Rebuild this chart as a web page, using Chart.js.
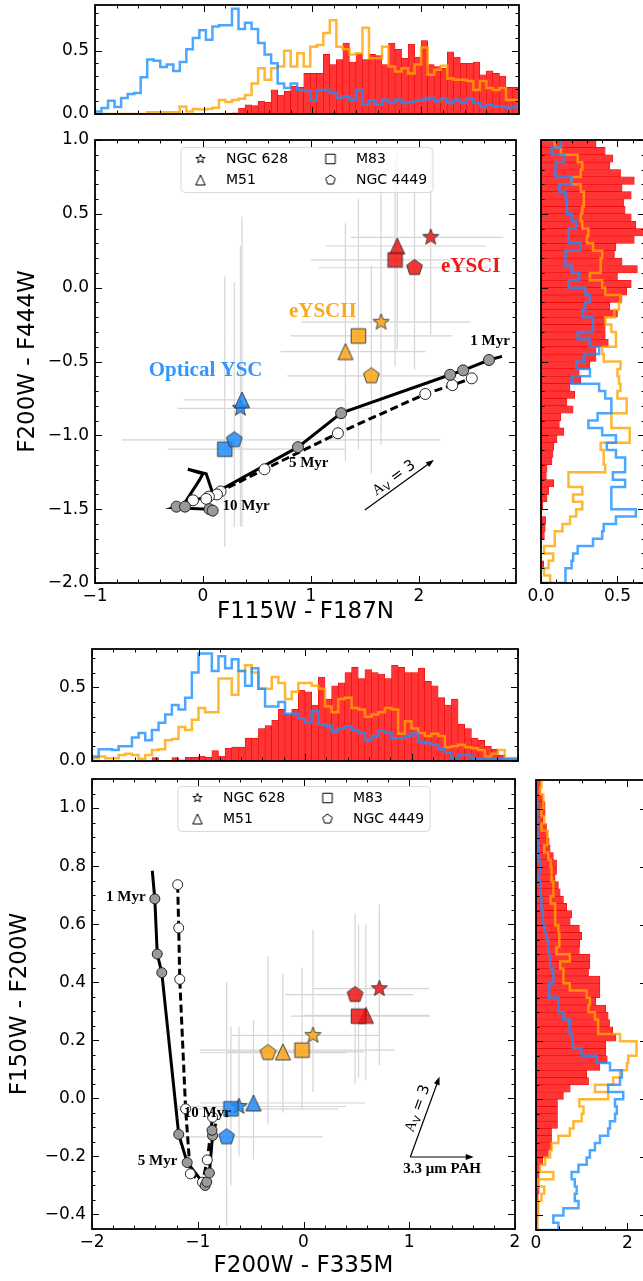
<!DOCTYPE html>
<html>
<head>
<meta charset="utf-8">
<title>Colour-colour diagrams</title>
<script src="https://cdn.jsdelivr.net/npm/chart.js@4.4.1/dist/chart.umd.min.js"></script>
<style>
  body { margin: 0; background: #fff; overflow: hidden; }
  #fig { position: relative; width: 643px; height: 1281px; overflow: hidden; background: #fff; }
  canvas { position: absolute; }
</style>
</head>
<body>
<div id="fig">
  <canvas id="top1" width="525" height="120" style="left:0;top:0"></canvas>
  <canvas id="main1" width="525" height="500" style="left:0;top:130px"></canvas>
  <canvas id="side1" width="130" height="500" style="left:520px;top:130px"></canvas>
  <canvas id="top2" width="524" height="127" style="left:0;top:640px"></canvas>
  <canvas id="main2" width="524" height="511" style="left:0;top:770px"></canvas>
  <canvas id="side2" width="140" height="511" style="left:516px;top:770px"></canvas>
</div>
<script>
const FONT = '"DejaVu Sans", sans-serif';
const SERIF = '"Liberation Serif", "DejaVu Serif", serif';

const GALAXIES = ['NGC 628', 'M51', 'M83', 'NGC 4449'];
const SHAPES = ['star', 'triangle', 'square', 'pentagon'];
const GROUPS = ['eYSCI', 'eYSCII', 'Optical YSC'];

// ---- histograms, panel 1 (top: F115W - F187N, side: F200W - F444W)
const TOP1_START = -1, TOP1_WIDTH = 0.06;
const TOP1_RED = [0,0,0,0,0,0,0,0,0,0, 0,0,0,0,0,0,0,0,0,0.008,
  0.008,0.01,0.047,0.073,0.066,0.10,0.092,0.19,0.15,0.18,
  0.22,0.21,0.32,0.32,0.32,0.47,0.39,0.43,0.56,0.41,
  0.47,0.43,0.47,0.46,0.39,0.56,0.51,0.44,0.55,0.45,
  0.58,0.39,0.375,0.36,0.49,0.45,0.40,0.40,0.41,0.31,
  0.34,0.32,0.30,0.21,0.21];
const TOP1_ORANGE = [0,0,0,0,0,0,0,0,0.013,0.013, 0.013,0.013,0.013,0.06,0.02,0.04,0.035,0.04,0.05,0.11,
  0.095,0.11,0.12,0.15,0.24,0.36,0.27,0.36,0.375,0.50,
  0.375,0.48,0.375,0.53,0.545,0.64,0.74,0.53,0.51,0.47,
  0.48,0.68,0.44,0.44,0.53,0.375,0.335,0.36,0.32,0.39,
  0.525,0.31,0.35,0.38,0.28,0.27,0.27,0.26,0.19,0.26,
  0.205,0.19,0.205,0.11,0.11];
const TOP1_BLUE = [0.02,0.047,0.105,0.055,0.126,0.157,0.165,0.29,0.43,0.42,
  0.37,0.39,0.34,0.41,0.51,0.60,0.66,0.585,0.69,0.70,
  0.70,0.83,0.67,0.72,0.67,0.56,0.47,0.40,0.24,0.205,
  0.24,0.19,0.186,0.105,0.19,0.19,0.165,0.126,0.14,0.113,
  0.19,0.073,0.108,0.073,0.113,0.087,0.113,0.087,0.095,0.105,
  0.113,0.126,0.10,0.123,0.087,0.113,0.087,0.123,0.087,0.055,
  0.073,0.06,0.06,0.047,0.055];

// side bins run from the top of the axis downwards
const SIDE1_TOP = 1.0, SIDE1_WIDTH = 0.05;
const SIDE1_RED = [0.36,0.42,0.47,0.45,0.52,0.61,0.53,0.59,0.54,0.55,
  0.59,0.62,0.67,0.61,0.49,0.48,0.53,0.63,0.50,0.59,
  0.56,0.53,0.45,0.50,0.42,0.42,0.42,0.44,0.36,0.36,
  0.32,0.25,0.26,0.19,0.22,0.17,0.21,0.13,0.12,0.15,
  0.105,0.083,0.079,0.072,0.04,0.035,0.083,0.05,0.04,0.013,
  0,0.03,0.028,0.022,0,0,0,0.018,0,0];
const SIDE1_ORANGE = [0.09,0.13,0.24,0.27,0.26,0.20,0.26,0.28,0.28,0.27,
  0.26,0.27,0.31,0.30,0.34,0.40,0.39,0.39,0.32,0.40,
  0.42,0.52,0.51,0.48,0.42,0.46,0.49,0.49,0.40,0.41,
  0.52,0.50,0.51,0.52,0.50,0.56,0.56,0.46,0.46,0.58,
  0.58,0.39,0.41,0.41,0.42,0.18,0.18,0.27,0.21,0.27,
  0.23,0.19,0.14,0.09,0.09,0.02,0.08,0.05,0.02,0.06];
const SIDE1_BLUE = [0.13,0.07,0.15,0.095,0.095,0.20,0.12,0.16,0.17,0.17,
  0.20,0.23,0.18,0.18,0.26,0.16,0.16,0.20,0.25,0.18,
  0.29,0.32,0.29,0.27,0.34,0.34,0.24,0.32,0.38,0.28,
  0.23,0.32,0.20,0.38,0.42,0.46,0.46,0.37,0.31,0.40,
  0.49,0.43,0.49,0.55,0.55,0.47,0.55,0.46,0.46,0.46,
  0.62,0.49,0.41,0.40,0.34,0.24,0.21,0.20,0.16,0.16];

// ---- histograms, panel 2 (top: F200W - F335M, side: F150W - F200W)
const TOP2_START = -2, TOP2_WIDTH = 0.0625;
const TOP2_RED = [0,0,0,0,0,0,0,0,0,0.023,
  0.005,0.005,0.023,0.008,0.025,0.025,0.034,0.025,0.07,0.034,
  0.087,0.094,0.094,0.155,0.155,0.22,0.24,0.276,0.35,0.32,
  0.35,0.48,0.47,0.38,0.57,0.42,0.51,0.53,0.60,0.635,
  0.56,0.62,0.60,0.59,0.56,0.65,0.635,0.60,0.60,0.63,
  0.54,0.51,0.43,0.38,0.42,0.25,0.22,0.155,0.14,0.10,
  0.08,0.04,0.018,0.01];
const TOP2_ORANGE = [0.018,0.03,0.018,0.018,0.04,0.05,0.04,0.014,0.04,0.075,
  0.08,0.14,0.15,0.23,0.21,0.28,0.36,0.33,0.33,0.56,
  0.56,0.45,0.61,0.65,0.60,0.49,0.49,0.57,0.53,0.42,
  0.47,0.53,0.53,0.51,0.49,0.37,0.33,0.42,0.43,0.36,
  0.35,0.30,0.315,0.33,0.36,0.35,0.185,0.27,0.22,0.19,
  0.17,0.185,0.17,0.094,0.10,0.11,0.094,0.087,0.075,0.03,
  0.05,0.075,0.018,0.02];
const TOP2_BLUE = [0.03,0.08,0.08,0.075,0.10,0.10,0.16,0.19,0.14,0.21,
  0.26,0.315,0.38,0.35,0.43,0.60,0.73,0.73,0.61,0.71,
  0.63,0.69,0.61,0.51,0.63,0.49,0.37,0.37,0.40,0.32,
  0.32,0.29,0.26,0.34,0.25,0.24,0.20,0.22,0.235,0.21,
  0.19,0.14,0.17,0.205,0.19,0.155,0.155,0.17,0.19,0.13,
  0.12,0.11,0.08,0.057,0.018,0.04,0.04,0.018,0.014,0.014,
  0.014,0.014,0.014,0.014];

const SIDE2_TOP = 1.10, SIDE2_WIDTH = 0.025;
const SIDE2_RED = [0.10,0.10,0.15,0.20,0.20,0.15,0.23,0.26,0.29,0.31,
  0.38,0.45,0.45,0.42,0.49,0.53,0.60,0.67,0.78,0.75,
  0.95,1.00,0.96,0.95,1.18,1.18,1.15,1.40,1.40,1.40,
  1.31,1.53,1.58,1.61,1.68,1.75,1.53,1.53,1.56,1.40,
  1.11,1.15,0.75,0.60,0.47,0.47,0.47,0.47,0.34,0.34,
  0.34,0.27,0.15,0.09,0.07,0.07,0.07,0.05,0.05,0.05,
  0.04,0.03];
const SIDE2_ORANGE = [0.12,0.09,0.16,0.16,0.12,0.18,0.12,0.25,0.25,0.18,
  0.27,0.32,0.34,0.34,0.38,0.38,0.32,0.42,0.42,0.42,
  0.49,0.51,0.51,0.45,0.74,0.53,0.60,0.60,0.74,1.11,
  1.18,1.15,1.29,1.36,1.36,1.84,2.20,2.20,2.02,1.99,
  1.84,1.69,1.29,1.58,0.95,1.04,1.0,0.82,0.74,0.49,
  0.34,0.31,0.20,0.09,0.38,0.05,0.18,0.12,0.05,0.05,
  0.03,0.03];
const SIDE2_BLUE = [0.015,0.015,0.015,0.03,0.03,0.03,0.03,0.03,0.05,0.05,
  0.05,0.09,0.09,0.06,0.10,0.10,0.12,0.12,0.15,0.15,
  0.18,0.23,0.27,0.27,0.31,0.31,0.38,0.38,0.29,0.29,
  0.49,0.49,0.60,0.73,0.74,0.80,0.80,1.0,1.33,1.62,
  1.88,1.84,1.58,1.91,1.73,1.77,1.73,1.62,1.58,1.40,
  1.29,1.18,1.11,0.93,0.78,0.85,0.89,0.85,0.93,0.60,
  0.38,0.49];

// ---- median colours, rows = GROUPS, columns = GALAXIES
const P1_X = [[2.11, 1.80, 1.78, 1.96], [1.65, 1.32, 1.44, 1.56], [0.347, 0.362, 0.202, 0.29]];
const P1_Y = [[0.341, 0.282, 0.188, 0.135], [-0.234, -0.433, -0.327, -0.598], [-0.817, -0.76, -1.094, -1.031]];
const P1_XLO = [[0.74, 0.66, 0.78, 0.89], [0.74, 0.60, 0.63, 0.78], [0.58, 0.54, 0.53, 1.04]];
const P1_XHI = [[0.67, 0.82, 0.52, 0.68], [0.83, 0.74, 0.87, 0.79], [1.21, 0.95, 1.11, 1.91]];
const P1_YLO = [[0.66, 0.70, 0.72, 0.69], [0.83, 0.74, 0.77, 0.66], [0.80, 0.86, 0.66, 0.59]];
const P1_YHI = [[0.60, 0.65, 0.67, 0.55], [0.92, 0.87, 0.93, 0.75], [1.10, 1.24, 1.17, 1.07]];

const P2_X = [[0.717, 0.59, 0.52, 0.488], [0.09, -0.195, -0.014, -0.336], [-0.61, -0.473, -0.686, -0.727]];
const P2_Y = [[0.378, 0.286, 0.283, 0.357], [0.217, 0.16, 0.166, 0.157], [-0.028, -0.016, -0.036, -0.133]];
const P2_XLO = [[0.63, 0.58, 0.64, 0.66], [0.775, 0.535, 0.966, 0.644], [0.59, 0.507, 0.514, 0.473]];
const P2_XHI = [[0.47, 0.60, 0.68, 0.55], [0.627, 0.765, 0.874, 0.736], [1.01, 1.053, 1.016, 0.907]];
const P2_YLO = [[0.264, 0.224, 0.213, 0.307], [0.195, 0.21, 0.206, 0.247], [0.172, 0.194, 0.264, 0.307]];
const P2_YHI = [[0.29, 0.314, 0.317, 0.28], [0.363, 0.27, 0.284, 0.333], [0.274, 0.286, 0.282, 0.533]];

// ---- model tracks
const P1_SOLID_X = [2.77, 2.65, 2.41, 2.29, 1.28, 0.88, 0.16, 0.09, 0.03, -0.14, 0.0, -0.03, -0.18, -0.27, 0.06, 0.12];
const P1_SOLID_Y = [-0.465, -0.49, -0.56, -0.59, -0.85, -1.08, -1.37, -1.39, -1.26, -1.23, -1.26, -1.30, -1.47, -1.49, -1.50, -1.50];
const P1_GREY_X = [2.65, 2.41, 2.29, 1.28, 0.88, -0.245, -0.166, 0.06, 0.09];
const P1_GREY_Y = [-0.49, -0.56, -0.59, -0.85, -1.08, -1.483, -1.483, -1.50, -1.51];
const P1_DASH_X = [2.53, 2.49, 2.31, 2.06, 1.25, 0.57, 0.16, 0.13, 0.055, -0.09, -0.2];
const P1_DASH_Y = [-0.60, -0.614, -0.66, -0.72, -0.986, -1.23, -1.38, -1.40, -1.415, -1.44, -1.47];
const P1_WHITE_X = [2.49, 2.31, 2.06, 1.25, 0.57, 0.163, 0.13, 0.055, 0.03, -0.092];
const P1_WHITE_Y = [-0.614, -0.66, -0.72, -0.986, -1.23, -1.38, -1.40, -1.415, -1.43, -1.44];

const P2_SOLID_X = [-1.43, -1.406, -1.383, -1.34, -1.18, -1.10, -0.93, -0.915, -0.89, -0.86, -0.83];
const P2_SOLID_Y = [0.784, 0.687, 0.497, 0.433, -0.124, -0.221, -0.30, -0.288, -0.257, -0.128, -0.087];
const P2_GREY_X = [-1.406, -1.383, -1.34, -1.18, -1.10, -0.93, -0.915, -0.89, -0.86, -0.865];
const P2_GREY_Y = [0.687, 0.497, 0.433, -0.124, -0.221, -0.30, -0.288, -0.257, -0.128, -0.11];
const P2_DASH_X = [-1.19, -1.18, -1.17, -1.115, -1.07, -0.955, -0.91, -0.86, -0.855];
const P2_DASH_Y = [0.736, 0.587, 0.41, -0.036, -0.26, -0.289, -0.212, -0.065, -0.05];
const P2_WHITE_X = [-1.19, -1.18, -1.17, -1.115, -1.07, -0.955, -0.91, -0.86];
const P2_WHITE_Y = [0.736, 0.587, 0.41, -0.036, -0.26, -0.289, -0.212, -0.065];

// colours
const RED_FILL = 'rgb(255,52,52)';
const RED_EDGE = 'rgb(238,0,0)';
const ORANGE_LINE = 'rgba(255,165,0,0.8)';
const BLUE_LINE = 'rgba(30,144,255,0.8)';
const GROUP_FILL = ['rgba(240,20,20,0.85)', 'rgba(250,165,20,0.85)', 'rgba(30,140,250,0.85)'];
const GROUP_TEXT = ['rgb(240,25,25)', 'rgb(252,168,30)', 'rgb(50,150,255)'];
const MARKER_SIZE = {star: 17, triangle: 16, square: 14.5, pentagon: 16.5};
const LEGEND_SIZE = {star: 9.5, triangle: 10, square: 9.5, pentagon: 10};

Chart.defaults.font.family = FONT;
Chart.defaults.color = '#000';
Chart.defaults.animation = false;
Chart.defaults.events = [];
Chart.defaults.plugins.legend.display = false;
Chart.defaults.plugins.tooltip.enabled = false;

//Marker glyphs drawn once on small canvases, used as pointStyle
function markerPath(ctx, shape, c, s) {
  ctx.beginPath();
  if (shape === 'square') {
    ctx.rect(c - s / 2, c - s / 2, s, s);
    return;
  }
  if (shape === 'triangle') {
    ctx.moveTo(c, c - s / 2);
    ctx.lineTo(c + s * 0.47, c + s / 2);
    ctx.lineTo(c - s * 0.47, c + s / 2);
    ctx.closePath();
    return;
  }
  const n = shape === 'star' ? 10 : 5;
  for (let i = 0; i < n; i++) {
    const r = (shape === 'star' && i % 2) ? s * 0.21 : s / 2;
    const t = -Math.PI / 2 + i * 2 * Math.PI / n;
    ctx.lineTo(c + r * Math.cos(t), c + r * Math.sin(t));
  }
  ctx.closePath();
}

function marker(shape, size, fill, edge) {
  const cv = document.createElement('canvas');
  cv.width = cv.height = Math.ceil(size + 4);
  const ctx = cv.getContext('2d');
  markerPath(ctx, shape, cv.width / 2, size);
  if (fill) {
    ctx.fillStyle = fill;
    ctx.fill();
  }
  ctx.strokeStyle = edge;
  ctx.lineWidth = 1;
  ctx.stroke();
  return cv;
}

const LEGEND_MARKERS = SHAPES.map(s => marker(s, LEGEND_SIZE[s], null, '#000'));

//Inward ticks on all four sides, like the matplotlib original
function drawTicks(ctx, a, scale, horiz, steps) {
  [[steps[1], 3.5], [steps[0], 7]].forEach(([st, len]) => {
    const k0 = Math.ceil(scale.min / st - 1e-6);
    const k1 = Math.floor(scale.max / st + 1e-6);
    for (let k = k0; k <= k1; k++) {
      const p = Math.round(scale.getPixelForValue(k * st)) + 0.5;
      ctx.beginPath();
      if (horiz) {
        ctx.moveTo(p, a.bottom); ctx.lineTo(p, a.bottom - len);
        ctx.moveTo(p, a.top); ctx.lineTo(p, a.top + len);
      } else {
        ctx.moveTo(a.left, p); ctx.lineTo(a.left + len, p);
        ctx.moveTo(a.right, p); ctx.lineTo(a.right - len, p);
      }
      ctx.stroke();
    }
  });
}

function drawArrow(ctx, x0, y0, x1, y1) {
  const ang = Math.atan2(y1 - y0, x1 - x0);
  const c = Math.cos(ang), s = Math.sin(ang);
  ctx.beginPath();
  ctx.moveTo(x0, y0);
  ctx.lineTo(x1 - 6 * c, y1 - 6 * s);
  ctx.stroke();
  ctx.beginPath();
  ctx.moveTo(x1, y1);
  ctx.lineTo(x1 - 8 * c + 3 * s, y1 - 8 * s - 3 * c);
  ctx.lineTo(x1 - 8 * c - 3 * s, y1 - 8 * s + 3 * c);
  ctx.closePath();
  ctx.fill();
}

function drawAv(ctx, px, py, ang) {
  ctx.save();
  ctx.translate(px, py);
  ctx.rotate(ang);
  ctx.textAlign = 'left';
  ctx.textBaseline = 'middle';
  const fA = '15px ' + SERIF, fV = '10px ' + FONT, fR = '15px ' + FONT;
  ctx.font = fA; const wA = ctx.measureText('A').width;
  ctx.font = fV; const wV = ctx.measureText('V').width;
  ctx.font = fR; const wR = ctx.measureText(' = 3').width;
  let x = -(wA + wV + wR) / 2;
  ctx.font = fA; ctx.fillText('A', x, 0); x += wA;
  ctx.font = fV; ctx.fillText('V', x, 4); x += wV;
  ctx.font = fR; ctx.fillText(' = 3', x, 0);
  ctx.restore();
}

function drawLegend(ctx, a) {
  const bx = a.left + 86, by = a.top + 7.5, bw = 252, bh = 45;
  ctx.beginPath();
  ctx.roundRect(bx, by, bw, bh, 4);
  ctx.fillStyle = 'rgba(255,255,255,0.8)';
  ctx.fill();
  ctx.strokeStyle = '#d9d9d9';
  ctx.lineWidth = 1;
  ctx.stroke();
  ctx.font = '14px ' + FONT;
  ctx.fillStyle = '#000';
  ctx.textAlign = 'left';
  ctx.textBaseline = 'middle';
  GALAXIES.forEach((name, i) => {
    const col = Math.floor(i / 2), row = i % 2;
    const mx = bx + 19.5 + col * 130, my = by + 11.5 + row * 21;
    const img = LEGEND_MARKERS[i];
    ctx.drawImage(img, mx - img.width / 2, my - img.height / 2);
    ctx.fillText(name, mx + 25.5, my);
  });
}

// annotations and tick layout for each canvas
const DECOR = {
  top1: {xt: [1, 0.2], yt: [0.5, 0.1]},
  side1: {xt: [0.5, 0.1], yt: [0.5, 0.1]},
  top2: {xt: [1, 0.2], yt: [0.5, 0.1]},
  side2: {xt: [2, 0.5], yt: [0.2, 0.05]},
  main1: {
    xt: [1, 0.2], yt: [0.5, 0.1], legend: true,
    notes: [
      {text: GROUPS[0], x: 2.48, y: 0.14, color: GROUP_TEXT[0], font: 'bold 21px ' + SERIF},
      {text: GROUPS[1], x: 1.11, y: -0.16, color: GROUP_TEXT[1], font: 'bold 21px ' + SERIF},
      {text: GROUPS[2], x: 0.025, y: -0.56, color: GROUP_TEXT[2], font: 'bold 21px ' + SERIF},
      {text: '1 Myr', x: 2.66, y: -0.36, color: '#000', font: 'bold 15px ' + SERIF},
      {text: '5 Myr', x: 0.98, y: -1.19, color: '#000', font: 'bold 15px ' + SERIF},
      {text: '10 Myr', x: 0.40, y: -1.48, color: '#000', font: 'bold 15px ' + SERIF}
    ],
    arrows: [{x0: 1.50, y0: -1.505, x1: 2.14, y1: -1.167}],
    av: {x: 1.77, y: -1.29}
  },
  main2: {
    xt: [1, 0.2], yt: [0.2, 0.05], legend: true,
    notes: [
      {text: '1 Myr', x: -1.68, y: 0.692, color: '#000', font: 'bold 15px ' + SERIF},
      {text: '5 Myr', x: -1.38, y: -0.216, color: '#000', font: 'bold 15px ' + SERIF},
      {text: '10 Myr', x: -0.91, y: -0.05, color: '#000', font: 'bold 15px ' + SERIF},
      {text: '3.3 \u03bcm PAH', x: 1.31, y: -0.243, color: '#000', font: 'bold 15px ' + SERIF}
    ],
    arrows: [{x0: 1.01, y0: -0.202, x1: 1.286, y1: 0.074}, {x0: 1.01, y0: -0.202, x1: 1.61, y1: -0.202}],
    av: {x: 1.08, y: -0.035}
  }
};

const decor = {
  id: 'decor',
  afterDatasetsDraw(chart) {
    const o = DECOR[chart.canvas.id];
    const {ctx, chartArea: a} = chart;
    const xs = chart.scales.x, ys = chart.scales.y;
    ctx.save();
    ctx.fillStyle = '#000';
    ctx.strokeStyle = '#000';
    ctx.lineWidth = 1.2;
    const arrows = (o.arrows || []).map(ar => [xs.getPixelForValue(ar.x0), ys.getPixelForValue(ar.y0), xs.getPixelForValue(ar.x1), ys.getPixelForValue(ar.y1)]);
    arrows.forEach(p => drawArrow(ctx, p[0], p[1], p[2], p[3]));
    if (o.av) {
      const p = arrows[0];
      drawAv(ctx, xs.getPixelForValue(o.av.x), ys.getPixelForValue(o.av.y), Math.atan2(p[3] - p[1], p[2] - p[0]));
    }
    ctx.textAlign = 'center';
    ctx.textBaseline = 'middle';
    (o.notes || []).forEach(n => {
      ctx.font = n.font;
      ctx.fillStyle = n.color;
      ctx.fillText(n.text, xs.getPixelForValue(n.x), ys.getPixelForValue(n.y));
    });
    if (o.legend) drawLegend(ctx, a);
    ctx.strokeStyle = '#000';
    ctx.lineWidth = 1;
    drawTicks(ctx, a, xs, true, o.xt);
    drawTicks(ctx, a, ys, false, o.yt);
    ctx.lineWidth = 1.8;
    ctx.strokeRect(a.left, a.top, a.right - a.left, a.bottom - a.top);
    ctx.restore();
  }
};

//Axis with fixed box size so the panels line up
function axis(o) {
  return {
    type: 'linear', min: o.min, max: o.max, offset: false,
    grid: {display: false, drawTicks: false},
    border: {display: false},
    ticks: {
      display: !!o.labels, stepSize: o.step, includeBounds: false, autoSkip: false, maxRotation: 0,
      padding: o.pad || 0, color: '#000', font: {family: FONT, size: 17},
      callback: v => v.toFixed(o.digits || 0).replace('-', '\u2212')
    },
    title: o.title
      ? {display: true, text: o.title, color: '#000', font: {family: FONT, size: 23}, padding: o.titlePad}
      : {display: false},
    afterFit: s => {
      if (s.isHorizontal()) s.height = o.size; else s.width = o.size;
      s.paddingLeft = s.paddingRight = s.paddingTop = s.paddingBottom = 0;
    }
  };
}

function stepLine(start, width, dir, vals, vertical) {
  const edge = i => start + dir * width * i;
  const pts = [[edge(0), 0]];
  vals.forEach((v, i) => {
    pts.push([edge(i), v], [edge(i + 1), v]);
  });
  pts.push([edge(vals.length), 0]);
  return pts.map(([p, v]) => vertical ? {x: v, y: p} : {x: p, y: v});
}

function barData(start, width, dir, vals, vertical) {
  return vals.map((v, i) => {
    const c = start + dir * width * (i + 0.5);
    return vertical ? {x: v, y: c} : {x: c, y: v};
  });
}

function histChart(id, h) {
  const dir = h.vertical ? -1 : 1;
  return new Chart(document.getElementById(id), {
    type: 'bar',
    data: {
      datasets: [
        {type: 'line', data: stepLine(h.start, h.width, dir, h.blue, h.vertical), borderColor: BLUE_LINE, borderWidth: 2.5, pointRadius: 0, fill: false, order: 0},
        {type: 'line', data: stepLine(h.start, h.width, dir, h.orange, h.vertical), borderColor: ORANGE_LINE, borderWidth: 2.5, pointRadius: 0, fill: false, order: 1},
        {type: 'bar', data: barData(h.start, h.width, dir, h.red, h.vertical), backgroundColor: RED_FILL, borderColor: RED_EDGE, borderWidth: 0.6, barPercentage: 1, categoryPercentage: 1, order: 2}
      ]
    },
    options: {
      responsive: false, devicePixelRatio: 1,
      indexAxis: h.vertical ? 'y' : 'x',
      layout: {padding: h.padding},
      scales: {x: h.x, y: h.y}
    },
    plugins: [decor]
  });
}

function pts(xs, ys) {
  return xs.map((x, i) => ({x, y: ys[i]}));
}

function errPts(m) {
  const out = [];
  m.x.forEach((row, g) => row.forEach((x, i) => {
    const y = m.y[g][i];
    out.push({x: x - m.xlo[g][i], y}, {x: x + m.xhi[g][i], y}, {x: NaN, y: NaN});
    out.push({x, y: y - m.ylo[g][i]}, {x, y: y + m.yhi[g][i]}, {x: NaN, y: NaN});
  }));
  return out;
}

function mainChart(id, m) {
  const datasets = GROUP_FILL.map((fill, g) => ({
    data: pts(m.x[g], m.y[g]),
    pointStyle: SHAPES.map(s => marker(s, MARKER_SIZE[s], fill, 'rgba(50,50,50,0.9)')),
    pointRadius: 8, order: 0
  }));
  datasets.push({data: pts(m.greyX, m.greyY), pointRadius: m.dot, backgroundColor: '#9a9a9a', borderColor: '#222', borderWidth: 1, order: 1});
  datasets.push({data: pts(m.whiteX, m.whiteY), pointRadius: m.dot, backgroundColor: '#fff', borderColor: '#222', borderWidth: 1, order: 1});
  datasets.push({data: pts(m.solidX, m.solidY), showLine: true, pointRadius: 0, borderColor: '#000', borderWidth: 3, order: 2});
  datasets.push({data: pts(m.dashX, m.dashY), showLine: true, pointRadius: 0, borderColor: '#000', borderWidth: 3, borderDash: [8, 4], order: 2});
  datasets.push({data: errPts(m), showLine: true, spanGaps: false, pointRadius: 0, borderColor: 'rgba(185,185,185,0.6)', borderWidth: 1.2, order: 3});
  return new Chart(document.getElementById(id), {
    type: 'scatter',
    data: {datasets},
    options: {
      responsive: false, devicePixelRatio: 1,
      layout: {padding: m.padding},
      scales: {x: m.xAxis, y: m.yAxis}
    },
    plugins: [decor]
  });
}

// ---- panel 1
histChart('top1', {
  start: TOP1_START, width: TOP1_WIDTH, red: TOP1_RED, orange: TOP1_ORANGE, blue: TOP1_BLUE,
  padding: {top: 5, right: 6, left: 0, bottom: 0},
  x: axis({min: -1, max: 2.9, step: 1, size: 6}),
  y: axis({min: 0, max: 0.86, step: 0.5, labels: true, digits: 1, size: 95, pad: 6})
});

mainChart('main1', {
  x: P1_X, y: P1_Y, xlo: P1_XLO, xhi: P1_XHI, ylo: P1_YLO, yhi: P1_YHI,
  solidX: P1_SOLID_X, solidY: P1_SOLID_Y, greyX: P1_GREY_X, greyY: P1_GREY_Y,
  dashX: P1_DASH_X, dashY: P1_DASH_Y, whiteX: P1_WHITE_X, whiteY: P1_WHITE_Y, dot: 5.5,
  padding: {top: 10, right: 6, left: 0, bottom: 0},
  xAxis: axis({min: -1, max: 2.9, step: 1, labels: true, digits: 0, size: 47, pad: 3, title: 'F115W - F187N', titlePad: {bottom: 4}}),
  yAxis: axis({min: -2, max: 1, step: 0.5, labels: true, digits: 1, size: 95, pad: 6, title: 'F200W - F444W', titlePad: {top: 14}})
});

histChart('side1', {
  vertical: true, start: SIDE1_TOP, width: SIDE1_WIDTH, red: SIDE1_RED, orange: SIDE1_ORANGE, blue: SIDE1_BLUE,
  padding: {top: 10, right: 5, left: 0, bottom: 0},
  x: axis({min: 0, max: 0.68, step: 0.5, labels: true, digits: 1, size: 47, pad: 3}),
  y: axis({min: -2, max: 1, step: 0.5, size: 21})
});

// ---- panel 2
histChart('top2', {
  start: TOP2_START, width: TOP2_WIDTH, red: TOP2_RED, orange: TOP2_ORANGE, blue: TOP2_BLUE,
  padding: {top: 9, right: 6, left: 0, bottom: 0},
  x: axis({min: -2, max: 2, step: 1, size: 6}),
  y: axis({min: 0, max: 0.76, step: 0.5, labels: true, digits: 1, size: 92, pad: 6})
});

mainChart('main2', {
  x: P2_X, y: P2_Y, xlo: P2_XLO, xhi: P2_XHI, ylo: P2_YLO, yhi: P2_YHI,
  solidX: P2_SOLID_X, solidY: P2_SOLID_Y, greyX: P2_GREY_X, greyY: P2_GREY_Y,
  dashX: P2_DASH_X, dashY: P2_DASH_Y, whiteX: P2_WHITE_X, whiteY: P2_WHITE_Y, dot: 5,
  padding: {top: 9, right: 6, left: 0, bottom: 0},
  xAxis: axis({min: -2, max: 2, step: 1, labels: true, digits: 0, size: 52, pad: 3, title: 'F200W - F335M', titlePad: {bottom: 1}}),
  yAxis: axis({min: -0.45, max: 1.1, step: 0.2, labels: true, digits: 1, size: 92, pad: 6, title: 'F150W - F200W', titlePad: {top: 6}})
});

histChart('side2', {
  vertical: true, start: SIDE2_TOP, width: SIDE2_WIDTH, red: SIDE2_RED, orange: SIDE2_ORANGE, blue: SIDE2_BLUE,
  padding: {top: 10, right: 9, left: 0, bottom: 0},
  x: axis({min: 0, max: 2.43, step: 2, labels: true, digits: 0, size: 51, pad: 3}),
  y: axis({min: -0.45, max: 1.1, step: 0.2, size: 20})
});
</script>
</body>
</html>
